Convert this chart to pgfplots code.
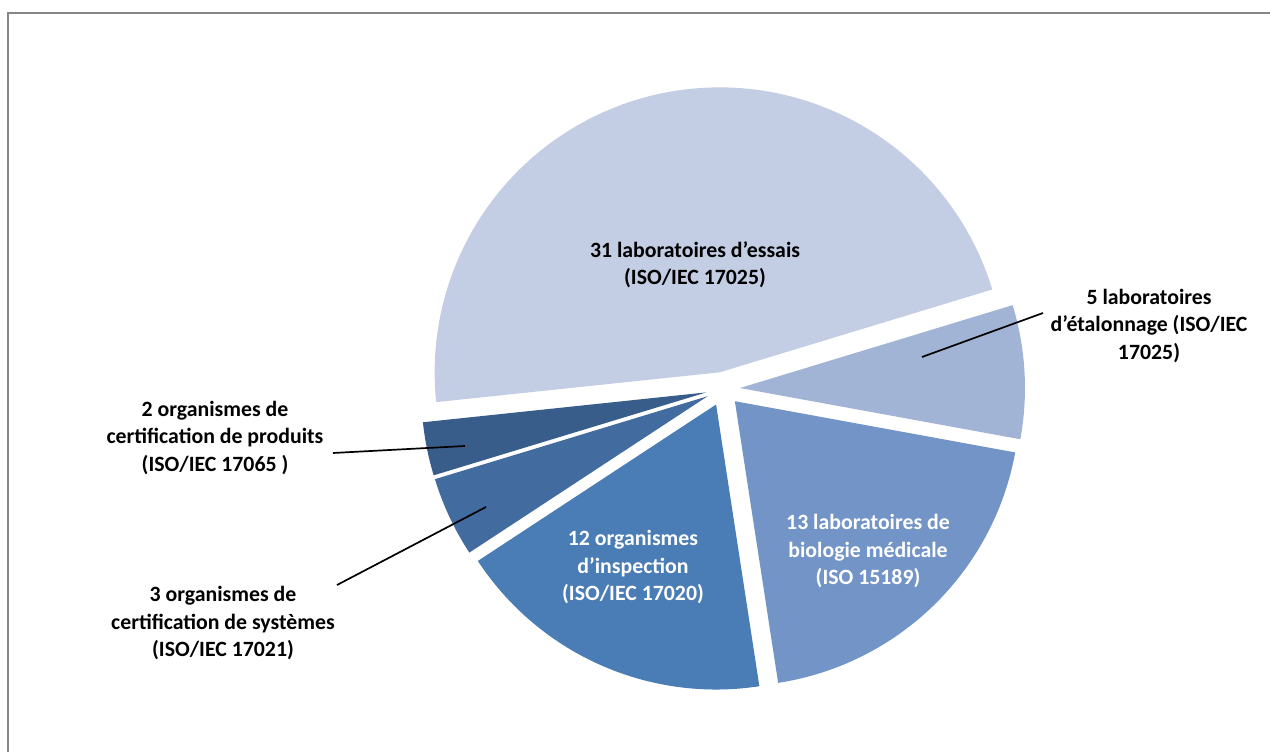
\documentclass[border=0pt]{standalone}
\usepackage{pgfplots}
\pgfplotsset{compat=1.18}
\usepackage{fontspec}
\setmainfont{Carlito}
\definecolor{cA}{HTML}{C3CDE3}
\definecolor{cB}{HTML}{A2B4D5}
\definecolor{cC}{HTML}{7394C6}
\definecolor{cD}{HTML}{4A7CB6}
\definecolor{cE}{HTML}{426BA0}
\definecolor{cF}{HTML}{385D8A}
\definecolor{frame}{HTML}{878787}
\tikzset{lbl/.style={align=center, font=\bfseries\fontsize{10.9}{13.6}\selectfont, inner sep=0pt}}
\newcommand\sA{186}
\newcommand\slice[2]{%
  \pgfmathsetmacro\sB{\sA-#1/66*360}%
  \pgfmathsetmacro\sM{(\sA+\sB)/2}%
  \pgfmathsetmacro\sX{723+17*cos(\sM)}%
  \pgfmathsetmacro\sY{362+17*sin(\sM)}%
  \edef\doit{\noexpand\addplot[fill=#2, draw=none, domain=\sB:\sA, samples=90] ({\sX+285*cos(x)},{\sY+285*sin(x)}) -- (axis cs:\sX,\sY) -- cycle;}%
  \doit
  \let\sA\sB}
\begin{document}
\begin{tikzpicture}
\begin{axis}[width=635pt, height=375.5pt, scale only axis,
  xmin=0, xmax=1270, ymin=0, ymax=751, axis lines=none, clip=false]
\draw[frame, line width=1pt] (axis cs:8,-20) -- (axis cs:8,738) -- (axis cs:1290,738);
\slice{31}{cA}
\slice{5}{cB}
\slice{13}{cC}
\slice{12}{cD}
\slice{3}{cE}
\slice{2}{cF}
\draw[black, line width=0.85pt] (axis cs:922,394) -- (axis cs:1043,438);
\draw[black, line width=0.85pt] (axis cs:333,298) -- (axis cs:465,305);
\draw[black, line width=0.85pt] (axis cs:337,166) -- (axis cs:486,244);
\node[lbl] at (axis cs:695,486) {31 laboratoires d’essais\\(ISO/IEC 17025)};
\node[lbl] at (axis cs:1149,425) {5 laboratoires\\d’étalonnage (ISO/IEC\\17025)};
\node[lbl, text=white] at (axis cs:868,200) {13 laboratoires de\\biologie médicale\\(ISO 15189)};
\node[lbl, text=white] at (axis cs:633,184) {12 organismes\\d’inspection\\(ISO/IEC 17020)};
\node[lbl] at (axis cs:215,313) {2 organismes de\\certification de produits\\(ISO/IEC 17065 )};
\node[lbl] at (axis cs:223,128) {3 organismes de\\certification de systèmes\\(ISO/IEC 17021)};
\end{axis}
\pgfresetboundingbox
\path[use as bounding box] (current axis.south west) rectangle (current axis.north east);
\end{tikzpicture}
\end{document}
